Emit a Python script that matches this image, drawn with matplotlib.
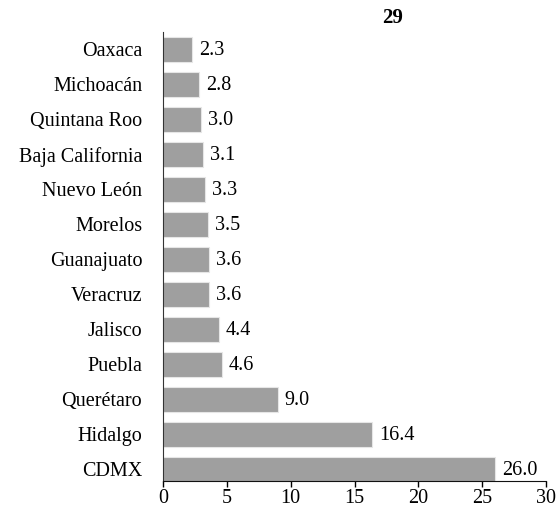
import matplotlib
matplotlib.use("Agg")
import matplotlib.pyplot as plt

# Data (bottom to top)
states = ['CDMX', 'Hidalgo', 'Querétaro', 'Puebla', 'Jalisco', 'Veracruz',
          'Guanajuato', 'Morelos', 'Nuevo León', 'Baja California',
          'Quintana Roo', 'Michoacán', 'Oaxaca']
values = [26.0, 16.4, 9.0, 4.6, 4.4, 3.6, 3.6, 3.5, 3.3, 3.1, 3.0, 2.8, 2.3]
xticks = [0, 5, 10, 15, 20, 25, 30]
title = '29'

plt.rcParams['font.family'] = ['Liberation Serif', 'DejaVu Serif']

fig = plt.figure(figsize=(5.56, 5.07), dpi=100)
ax = fig.add_axes([163 / 556, 1 - 481 / 507, (546 - 163) / 556, (481 - 32) / 507])

pos = range(len(states))
ax.barh(pos, values, height=0.69, color='#9f9f9f', edgecolor='#e6e6e6', linewidth=0.8)

for y, v in zip(pos, values):
    ax.annotate(f'{v:.1f}', (v, y), xytext=(5, -1), textcoords='offset points',
                ha='left', va='center', fontsize=14.5)

ax.set_yticks(list(pos))
ax.set_yticklabels(states, fontsize=14.5)
ax.set_xticks(xticks)
ax.set_xticklabels([str(t) for t in xticks], fontsize=14.5)
ax.set_xlim(0, 30)
ax.set_ylim(-0.33, 12.5)

ax.tick_params(axis='y', length=0, pad=15)
ax.tick_params(axis='x', length=4.5, width=1, pad=1.5, direction='out')
for s in ['top', 'right']:
    ax.spines[s].set_visible(False)
ax.spines['left'].set_color('#333333')
ax.spines['bottom'].set_color('#111111')

fig.text(393 / 556, 1 - 18 / 507, title, ha='center', va='center',
         fontsize=15, fontweight='bold')

fig.savefig('out.png', dpi=100)
